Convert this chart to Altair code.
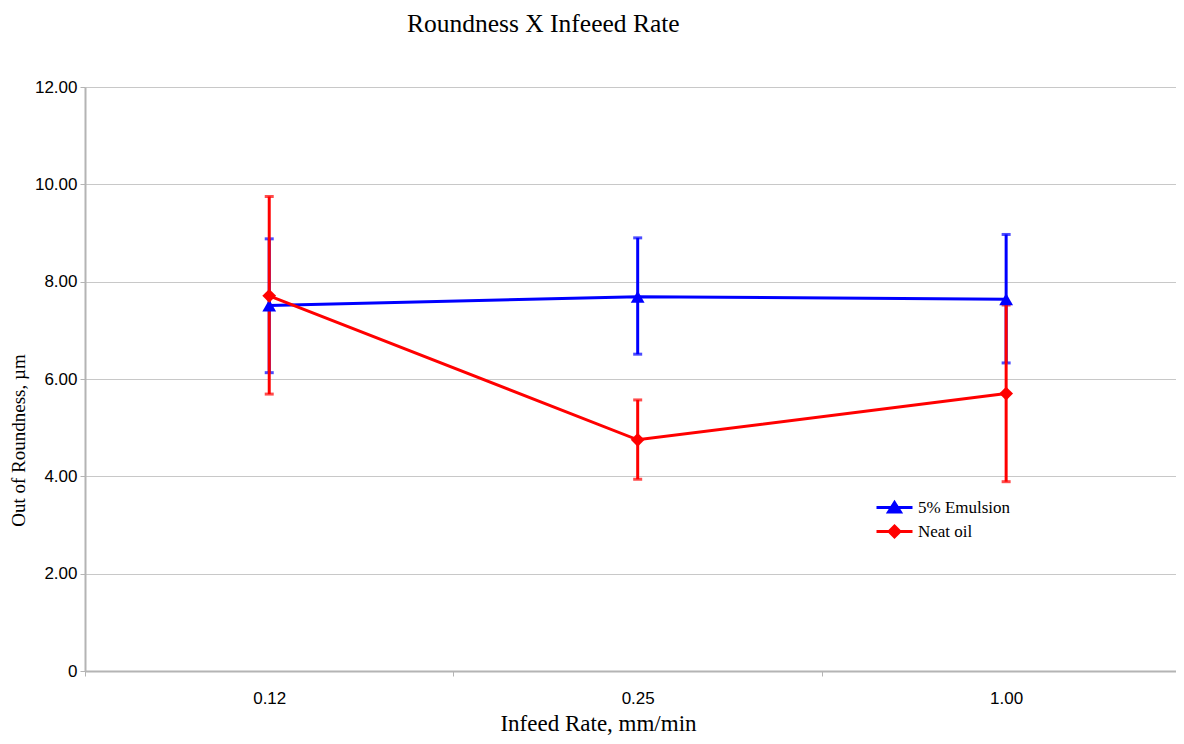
import altair as alt
import pandas as pd

rates = ["0.12", "0.25", "1.00"]
series_names = ["5% Emulsion", "Neat oil"]
series_colors = ["#0000ff", "#ff0000"]
series_shapes = ["triangle-up", "diamond"]

emulsion_mean = [7.51, 7.69, 7.64]
emulsion_upper = [8.88, 8.90, 8.97]
emulsion_lower = [6.13, 6.51, 6.33]

neat_mean = [7.71, 4.75, 5.70]
neat_upper = [9.75, 5.57, 7.52]
neat_lower = [5.69, 3.94, 3.89]

rows = []
for s, (m, u, l) in zip(series_names, [(emulsion_mean, emulsion_upper, emulsion_lower),
                                        (neat_mean, neat_upper, neat_lower)]):
    for i, r in enumerate(rates):
        rows.append({"idx": i, "rate": r, "series": s, "mean": m[i], "upper": u[i], "lower": l[i]})
df = pd.DataFrame(rows)

tri_path = "M-2,0H2M0,-0.55L0.66,0.5L-0.66,0.5Z"
dia_path = "M-2,0H2M0,-0.6L0.6,0L0,0.6L-0.6,0Z"

legend = alt.Legend(
    orient="none", legendX=799, legendY=410, title=None, padding=0,
    symbolSize=324, symbolStrokeWidth=3, symbolOpacity=1,
    labelFont="Liberation Serif", labelFontSize=17, labelColor="black",
    labelOffset=13, rowPadding=2,
)

x_axis = alt.Axis(
    values=[-0.5, 0, 0.5, 1, 1.5, 2],
    labelExpr="datum.value == 0 ? '0.12' : datum.value == 1 ? '0.25' : datum.value == 2 ? '1.00' : ''",
    grid=False, domainColor="#b4b4b4", domainWidth=2,
    tickColor="#b4b4b4", tickSize=5, tickWidth=1,
    tickOpacity={"condition": {"test": "abs(datum.value % 1) < 0.01", "value": 0}, "value": 1},
    labelFont="Liberation Sans", labelFontSize=17, labelColor="black", labelPadding=14,
    labelOverlap=False, labelFlush=False,
    title="Infeed Rate, mm/min", titleFont="Liberation Serif", titleFontSize=23,
    titleFontWeight="normal", titleColor="black", titleX=513, titleY=59,
    titleBaseline="alphabetic", titleAlign="center",
)
y_axis = alt.Axis(
    values=[0, 2, 4, 6, 8, 10, 12],
    labelExpr="datum.value == 0 ? '0' : format(datum.value, '.2f')",
    grid=True, gridColor="#c8c8c8", gridWidth=1,
    domainColor="#b4b4b4", domainWidth=2, tickColor="#b4b4b4", tickSize=5,
    labelFont="Liberation Sans", labelFontSize=17, labelColor="black", labelPadding=3,
    title="Out of Roundness, µm", titleFont="Liberation Serif", titleFontSize=19,
    titleFontWeight="normal", titleColor="black", titleX=-67, titleY=353,
    titleAngle=270, titleAlign="center", titleBaseline="middle",
)

xs = alt.Scale(domain=[-0.5, 2.461], nice=False, zero=False)
ys = alt.Scale(domain=[0, 12], nice=False)

base = alt.Chart(df)
X = alt.X("idx:Q", scale=xs, axis=x_axis)


def per_series(s):
    return base.transform_filter(alt.datum.series == s)


caps, rules, lines, points = [], [], [], []
for s, c, shp in zip(series_names, series_colors, series_shapes):
    b = per_series(s)
    caps.append(b.mark_tick(orient="horizontal", size=9, thickness=3, color=c).encode(
        x=X, y=alt.Y("upper:Q", scale=ys, axis=y_axis)))
    caps.append(b.mark_tick(orient="horizontal", size=9, thickness=3, color=c).encode(
        x=X, y=alt.Y("lower:Q", scale=ys, axis=y_axis)))
    rules.append(b.mark_rule(strokeWidth=3, color=c).encode(
        x=X, y=alt.Y("lower:Q", scale=ys, axis=y_axis), y2="upper:Q"))
    lines.append(b.mark_line(strokeWidth=3, color=c).encode(
        x=X, y=alt.Y("mean:Q", scale=ys, axis=y_axis)))
    points.append(b.mark_point(filled=True, opacity=1, size=190, shape=shp, color=c).encode(
        x=X, y=alt.Y("mean:Q", scale=ys, axis=y_axis)))

legend_layer = base.transform_filter("false").mark_point(size=324, strokeWidth=3, opacity=1, filled=True).encode(
    x=X, y=alt.Y("mean:Q", scale=ys, axis=y_axis),
    fill=alt.Fill("series:N", scale=alt.Scale(domain=series_names, range=series_colors), legend=legend),
    stroke=alt.Stroke("series:N", scale=alt.Scale(domain=series_names, range=series_colors), legend=legend),
    shape=alt.Shape("series:N", scale=alt.Scale(domain=series_names, range=[tri_path, dia_path]), legend=legend),
)

chart = alt.layer(*caps, *rules, *lines, *points, legend_layer).properties(
    width=1091, height=584,
    padding={"left": 77, "top": 79, "right": 0, "bottom": 65},
    autosize=alt.AutoSizeParams(type="none"),
    title=alt.Title("Roundness X Infeeed Rate", font="Liberation Serif", fontSize=25.5,
                    fontWeight="normal", color="black", anchor="start", frame="group",
                    dx=322, offset=21, baseline="alphabetic"),
).configure_view(stroke=None).configure(background="white")

chart.save("out.html", embed_options={"renderer": "svg", "actions": False})
